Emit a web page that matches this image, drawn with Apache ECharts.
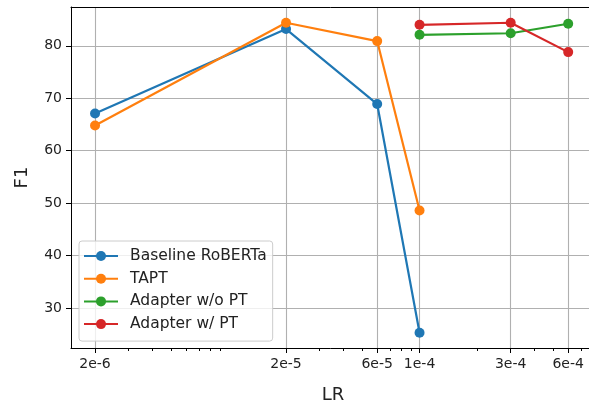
<!DOCTYPE html>
<html>
<head>
<meta charset="utf-8">
<script src="https://cdn.jsdelivr.net/npm/echarts@6/dist/echarts.min.js"></script>
<style>
html,body{margin:0;padding:0;background:#fff;}
#c{width:589px;height:406px;}
</style>
</head>
<body>
<div id="c"></div>
<script>
// ---- data ----
const lrBase = [2e-6, 2e-5, 6e-5, 1e-4];
const baselineRoberta = [67.1, 83.2, 68.9, 25.3];
const tapt = [64.8, 84.4, 80.9, 48.6];
const lrAdapter = [1e-4, 3e-4, 6e-4];
const adapterNoPT = [82.1, 82.4, 84.2];
const adapterPT = [84.0, 84.4, 78.8];
const seriesNames = ['Baseline RoBERTa', 'TAPT', 'Adapter w/o PT', 'Adapter w/ PT'];
const xTickValues = [2e-6, 2e-5, 6e-5, 1e-4, 3e-4, 6e-4];
const xTickLabels = ['2e-6', '2e-5', '6e-5', '1e-4', '3e-4', '6e-4'];
const xMinorTicks = [3e-6, 4e-6, 5e-6, 6e-6, 7e-6, 8e-6, 9e-6, 3e-5, 4e-5, 5e-5, 7e-5, 8e-5, 9e-5, 2e-4, 4e-4, 5e-4, 7e-4, 8e-4];
const yTickValues = [30, 40, 50, 60, 70, 80];

const colors = ['#1f77b4', '#ff7f0e', '#2ca02c', '#d62728'];
const FONT = 'DejaVu Sans';
const X_MIN = 1.497e-6, X_MAX = 8.29e-4;

function xLabel(v) {
  let best = 0, bd = Infinity;
  xTickValues.forEach((t, i) => {
    const d = Math.abs(Math.log10(v) - Math.log10(t));
    if (d < bd) { bd = d; best = i; }
  });
  return xTickLabels[best];
}

function pairs(xs, ys) { return xs.map((x, i) => [x, ys[i]]); }

function mkSeries(name, xs, ys, color) {
  return {
    name: name, type: 'line', xAxisIndex: 0,
    data: pairs(xs, ys),
    symbol: 'circle', symbolSize: 10,
    lineStyle: { color: color, width: 2.2 },
    itemStyle: { color: color },
    emphasis: { disabled: true },
    animation: false
  };
}

const chart = echarts.init(document.getElementById('c'), null, { renderer: 'canvas' });
chart.setOption({
  animation: false,
  textStyle: { fontFamily: FONT },
  grid: { left: 71, top: 7, width: 524, bottom: 58, show: false, containLabel: false, outerBoundsMode: 'none' },
  legend: {
    orient: 'vertical', left: 79, top: 241,
    data: seriesNames,
    itemWidth: 34, itemHeight: 12.5, itemGap: 6.7,
    padding: [7, 6, 9, 4],
    backgroundColor: 'rgba(255,255,255,0.8)',
    borderColor: '#cccccc', borderWidth: 1, borderRadius: 3,
    textStyle: { fontFamily: FONT, fontSize: 15.5, color: '#222', lineHeight: 16, padding: [0, 0, 0, 7] }
  },
  xAxis: [{
    type: 'log', logBase: 10, min: X_MIN, max: X_MAX,
    position: 'bottom',
    name: 'LR', nameLocation: 'middle', nameGap: 38,
    nameTextStyle: { fontFamily: FONT, fontSize: 18, color: '#222' },
    axisLine: { show: true, lineStyle: { color: '#000', width: 1 } },
    axisTick: { show: true, length: 5, lineStyle: { color: '#000', width: 1 }, customValues: xTickValues },
    axisLabel: { show: true, customValues: xTickValues, formatter: xLabel, fontFamily: FONT, fontSize: 14, color: '#222', margin: 9 },
    splitLine: { show: true, lineStyle: { color: '#b0b0b0', width: 1.1 } },
    minorTick: { show: false }, minorSplitLine: { show: false }
  }, {
    type: 'log', logBase: 10, min: X_MIN, max: X_MAX,
    position: 'bottom',
    axisLine: { show: false },
    axisTick: { show: true, length: 3, lineStyle: { color: '#000', width: 1 }, customValues: xMinorTicks },
    axisLabel: { show: false },
    splitLine: { show: false }
  }, {
    type: 'log', logBase: 10, min: X_MIN, max: X_MAX,
    position: 'top',
    axisLine: { show: true, lineStyle: { color: '#000', width: 1 } },
    axisTick: { show: false },
    axisLabel: { show: false },
    splitLine: { show: false }
  }],
  yAxis: {
    type: 'value', min: 22.4, max: 87.4,
    name: 'F1', nameLocation: 'middle', nameGap: 40,
    nameTextStyle: { fontFamily: FONT, fontSize: 18, color: '#222' },
    axisLine: { show: true, lineStyle: { color: '#000', width: 1 } },
    axisTick: { show: true, length: 5, lineStyle: { color: '#000', width: 1 }, customValues: yTickValues },
    axisLabel: { show: true, customValues: yTickValues, fontFamily: FONT, fontSize: 14, color: '#222', margin: 9 },
    splitLine: { show: true, lineStyle: { color: '#b0b0b0', width: 1.1 } }
  },
  series: [
    mkSeries(seriesNames[0], lrBase, baselineRoberta, colors[0]),
    mkSeries(seriesNames[1], lrBase, tapt, colors[1]),
    mkSeries(seriesNames[2], lrAdapter, adapterNoPT, colors[2]),
    mkSeries(seriesNames[3], lrAdapter, adapterPT, colors[3])
  ]
});
</script>
</body>
</html>
